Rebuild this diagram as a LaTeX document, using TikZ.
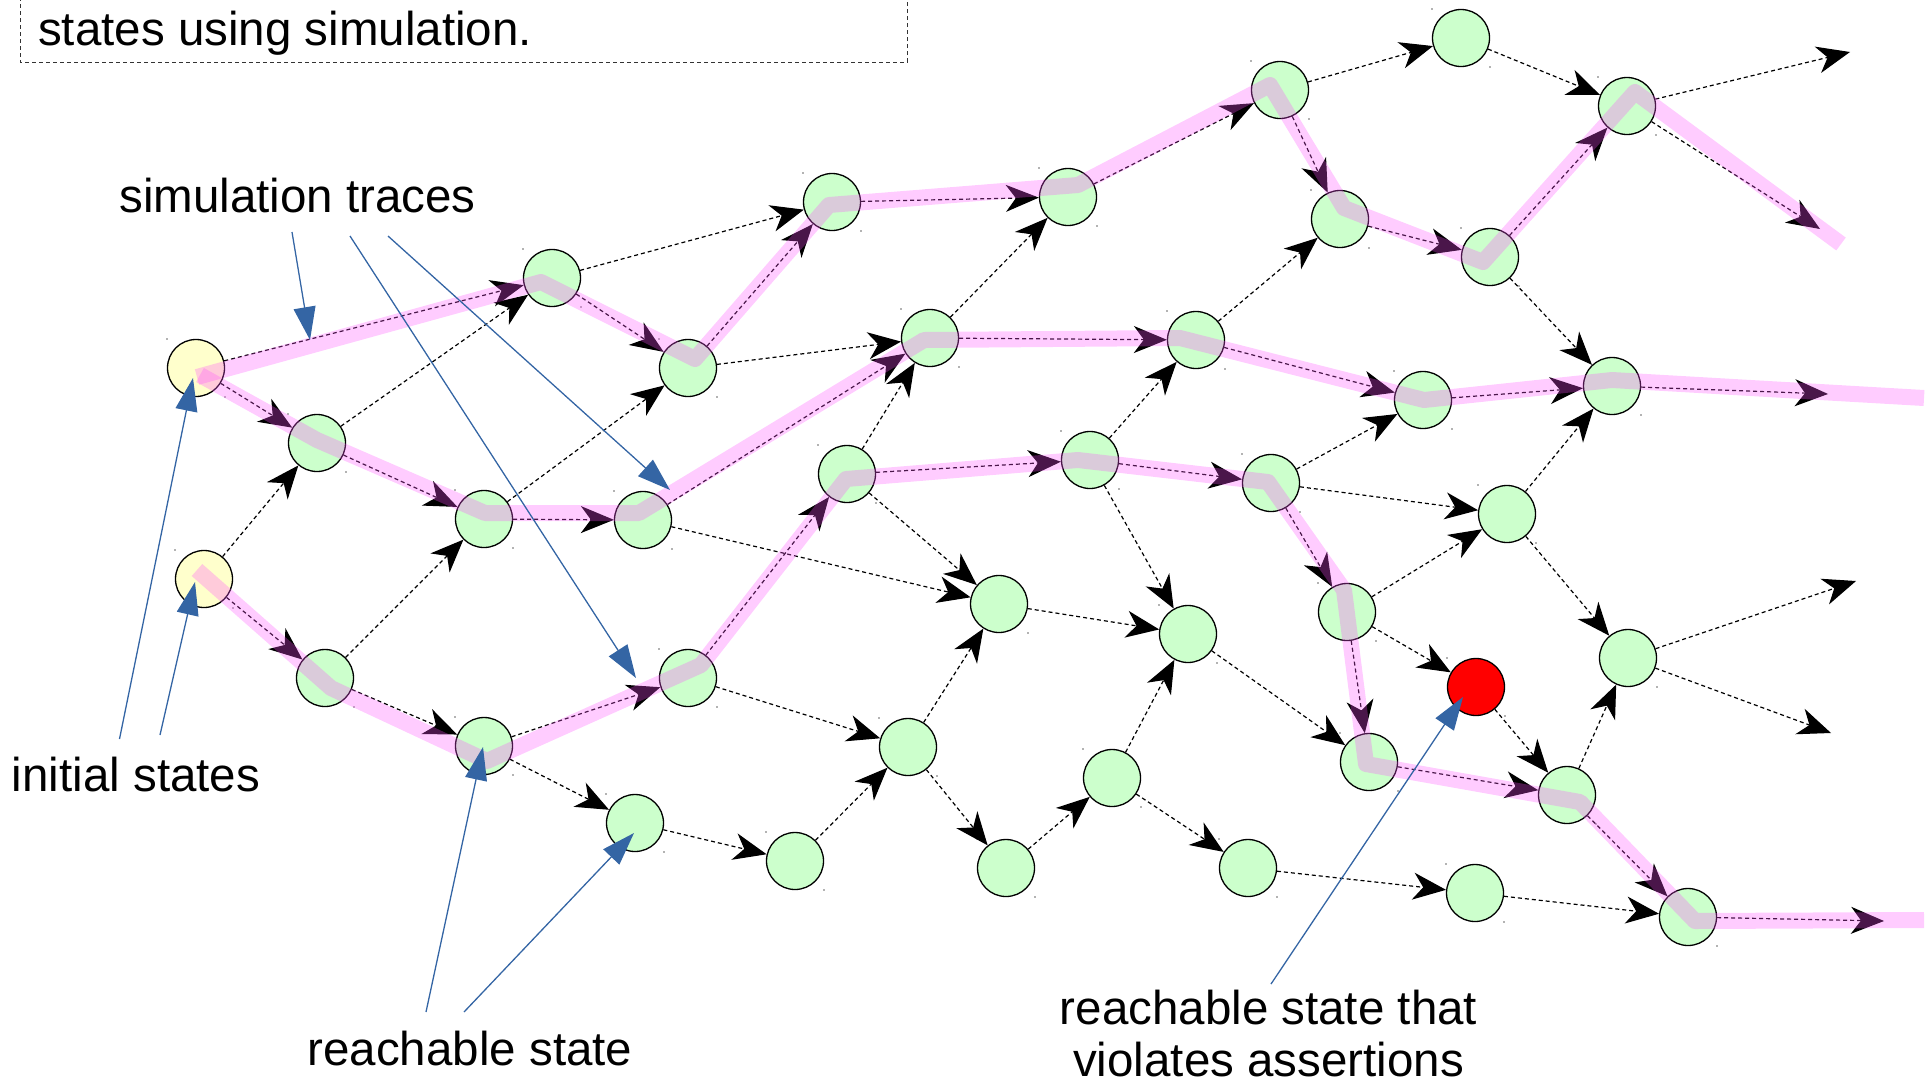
\documentclass[tikz,border=0pt]{standalone}
\usepackage{fontspec}
\setmainfont{Liberation Sans}
\usetikzlibrary{arrows.meta}

\definecolor{stategreen}{HTML}{CCFFCC}
\definecolor{inityellow}{HTML}{FFFFCC}
\definecolor{badred}{HTML}{FF0000}
\definecolor{calloutblue}{HTML}{3465A4}
\definecolor{tracepink}{RGB}{255,79,255}

\tikzset{
  state/.style={circle, draw=black, line width=1.3pt, minimum size=57pt,
    inner sep=0pt, fill=stategreen},
  initstate/.style={state, fill=inityellow},
  badstate/.style={state, fill=badred},
  trans/.style={draw=black, line width=1.2pt, dash pattern=on 4pt off 3pt,
    -{Stealth[length=33pt, width=27pt, inset=10pt]}},
  tracepath/.style={draw=tracepink, draw opacity=0.29, line width=16pt,
    line join=round},
  callout/.style={draw=calloutblue, line width=1.3pt,
    -{Triangle[length=33pt, width=22pt]}},
  lbltext/.style={font=\fontsize{47.5}{52}\selectfont, inner sep=0pt,
    anchor=base},
  framebox/.style={draw=black!80, line width=1pt, dash pattern=on 4pt off 3pt},
  cornerdot/.style={fill=black!60}
}

\begin{document}
\begin{tikzpicture}[x=1pt, y=-1pt]
\useasboundingbox (0,0) rectangle (1932,1082);

% note frame, open at the top
\draw[framebox] (20,-10) rectangle (907,62);
\node[lbltext, anchor=base west] (labsim) at (38,45) {states using simulation.};

% states
\node[initstate] (i1) at (196,368) {};
\node[initstate] (i2) at (204,579) {};
\node[state] (nA) at (317,443) {};
\node[state] (nB) at (552,278) {};
\node[state] (nC) at (484,519) {};
\node[state] (nD) at (643,520) {};
\node[state] (nE) at (688,368) {};
\node[state] (nF) at (832,202) {};
\node[state] (nG) at (325,678) {};
\node[state] (nH) at (484,746) {};
\node[state] (nJ) at (688,678) {};
\node[state] (nK) at (635,823) {};
\node[state] (nL) at (795,861) {};
\node[state] (nM) at (847,474) {};
\node[state] (nN) at (930,338) {};
\node[state] (nO) at (1068,197) {};
\node[state] (nP) at (1280,90) {};
\node[state] (nQ) at (1461,38) {};
\node[state] (nR) at (1627,106) {};
\node[state] (nS) at (1340,219) {};
\node[state] (nT) at (1490,257) {};
\node[state] (nU) at (1196,340) {};
\node[state] (nV) at (1423,400) {};
\node[state] (nW) at (1612,386) {};
\node[state] (nX) at (1090,460) {};
\node[state] (nY) at (1271,483) {};
\node[state] (nZ) at (1507,514) {};
\node[state] (na) at (999,604) {};
\node[state] (nb) at (1188,634) {};
\node[state] (nc) at (1347,612) {};
\node[badstate] (nbad) at (1476,687) {};
\node[state] (nd) at (1628,658) {};
\node[state] (ne) at (908,747) {};
\node[state] (nf) at (1112,778) {};
\node[state] (ng) at (1006,868) {};
\node[state] (nh) at (1248,868) {};
\node[state] (ni) at (1369,762) {};
\node[state] (nj) at (1567,795) {};
\node[state] (nk) at (1475,893) {};
\node[state] (nl) at (1688,917) {};

% tiny handle dots at the corners of each state
\foreach \n in {i1,i2,nA,nB,nC,nD,nE,nF,nG,nH,nJ,nK,nL,nM,nN,nO,nP,nQ,nR,nS,
  nT,nU,nV,nW,nX,nY,nZ,na,nb,nc,nbad,nd,ne,nf,ng,nh,ni,nj,nk,nl} {
  \fill[cornerdot] ([shift={(-29,-29)}]\n.center) circle (0.9pt);
  \fill[cornerdot] ([shift={(29,29)}]\n.center) circle (0.9pt);
}

% open ends of transitions leaving the drawing
\coordinate (xR1) at (1850,52);
\coordinate (xR2) at (1820,229);
\coordinate (xW) at (1828,394);
\coordinate (xd1) at (1856,581);
\coordinate (xd2) at (1831,733);
\coordinate (xl) at (1884,921);

% transitions
\foreach \s/\t in {i1/nB, i1/nA, i2/nA, i2/nG,
  nA/nB, nA/nC, nB/nE, nB/nF, nC/nD, nC/nE, nG/nC, nG/nH,
  nD/nN, nD/na, nE/nF, nE/nN, nF/nO,
  nH/nJ, nH/nK, nJ/nM, nJ/ne, nK/nL, nL/ne,
  nM/nN, nM/nX, nM/na, nN/nO, nN/nU,
  nO/nP, nP/nQ, nP/nS, nQ/nR, nR/xR1, nR/xR2,
  nS/nT, nT/nR, nT/nW, nU/nS, nU/nV, nV/nW, nW/xW,
  nX/nU, nX/nY, nX/nb, nY/nV, nY/nZ, nY/nc,
  nZ/nW, nZ/nd, nc/nZ, nc/nbad, nc/ni,
  na/nb, nb/ni, nf/nb, ne/na, ne/ng, ng/nf, nf/nh, nh/nk, nk/nl,
  nbad/nj, ni/nj, nj/nd, nj/nl, nl/xl, nd/xd1, nd/xd2}
  \draw[trans] (\s) -- (\t);

% simulation traces
\coordinate (t1end) at (1841,244);
\coordinate (t2end) at (1924,398);
\coordinate (t3end) at (1924,920);
\draw[tracepath] ([shift={(1,9)}]i1.center) -- ([shift={(-11,4)}]nB.center)
  -- ([shift={(7,-9)}]nE.center) -- ([shift={(-3,3)}]nF.center)
  -- ([shift={(10,-12)}]nO.center) -- ([shift={(-10,-5)}]nP.center)
  -- ([shift={(4,-11)}]nS.center) -- ([shift={(-7,5)}]nT.center)
  -- ([shift={(8,-14)}]nR.center) -- (t1end);
\draw[tracepath] ([shift={(4,7)}]i1.center) -- ([shift={(0,-3)}]nA.center)
  -- ([shift={(1,-6)}]nC.center) -- ([shift={(-4,-7)}]nD.center)
  -- ([shift={(-6,2)}]nN.center) -- ([shift={(-16,-2)}]nU.center)
  -- ([shift={(1,0)}]nV.center) -- ([shift={(0,-6)}]nW.center) -- (t2end);
\draw[tracepath] ([shift={(-7,-9)}]i2.center) -- ([shift={(6,10)}]nG.center)
  -- ([shift={(3,15)}]nH.center) -- ([shift={(13,-13)}]nJ.center)
  -- ([shift={(-1,5)}]nM.center) -- ([shift={(-12,0)}]nX.center)
  -- ([shift={(-3,-1)}]nY.center) -- ([shift={(-3,-22)}]nc.center)
  -- ([shift={(-3,2)}]ni.center) -- ([shift={(13,7)}]nj.center)
  -- ([shift={(7,4)}]nl.center) -- (t3end);

% captions
\node[lbltext] (labtraces) at (297.5,212) {simulation traces};
\node[lbltext] (labinit) at (136,791) {initial states};
\node[lbltext] (labreach) at (470,1065) {reachable state};
\node[lbltext] (labviolA) at (1268.5,1024) {reachable state that};
\node[lbltext] (labviolB) at (1268.5,1076) {violates assertions};

% callout pointers
\coordinate (cs1) at (292,232);   \coordinate (ct1) at (310,340);
\coordinate (cs2) at (350,236);   \coordinate (ct2) at (636,678);
\coordinate (cs3) at (388,236);   \coordinate (ct3) at (670,490);
\coordinate (cs4) at (119.5,739); \coordinate (ct4) at (193,378);
\coordinate (cs5) at (160,735);   \coordinate (ct5) at (195,582);
\coordinate (cs6) at (426,1012);  \coordinate (ct6) at (483,747);
\coordinate (cs7) at (464,1012);  \coordinate (ct7) at (634,833);
\coordinate (cs8) at (1271,984);  \coordinate (ct8) at (1463,697);
\foreach \k in {1,...,8}
  \draw[callout] (cs\k) -- (ct\k);
\end{tikzpicture}
\end{document}
